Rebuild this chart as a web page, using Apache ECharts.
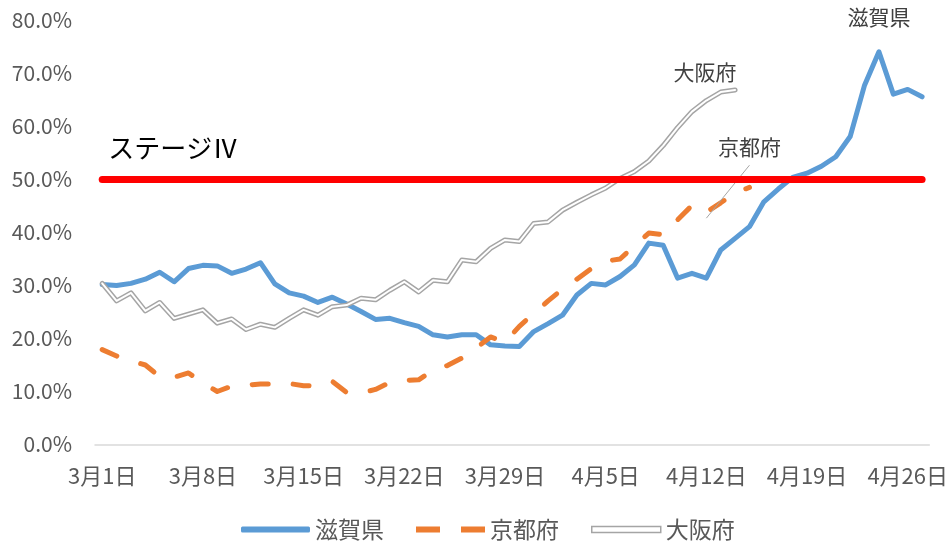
<!DOCTYPE html>
<html>
<head>
<meta charset="utf-8">
<script src="https://cdn.jsdelivr.net/npm/echarts@6/dist/echarts.min.js"></script>
<style>
html, body { margin: 0; padding: 0; background: #fff; }
#chart_id { width: 951px; height: 547px; }
</style>
</head>
<body>
<div id="chart_id"></div>
<script>
// 日付
var xAxis_data = [
	'3月1日','3月2日','3月3日','3月4日','3月5日','3月6日','3月7日',
	'3月8日','3月9日','3月10日','3月11日','3月12日','3月13日','3月14日',
	'3月15日','3月16日','3月17日','3月18日','3月19日','3月20日','3月21日',
	'3月22日','3月23日','3月24日','3月25日','3月26日','3月27日','3月28日',
	'3月29日','3月30日','3月31日','4月1日','4月2日','4月3日','4月4日',
	'4月5日','4月6日','4月7日','4月8日','4月9日','4月10日','4月11日',
	'4月12日','4月13日','4月14日','4月15日','4月16日','4月17日','4月18日',
	'4月19日','4月20日','4月21日','4月22日','4月23日','4月24日','4月25日',
	'4月26日','4月27日'
];
// 滋賀県 (%)
var shiga_data = [
	30.2, 30.0, 30.4, 31.2, 32.5, 30.7, 33.2,
	33.8, 33.7, 32.3, 33.1, 34.3, 30.3, 28.6,
	28.0, 26.8, 27.8, 26.5, 25.1, 23.6, 23.8,
	23.0, 22.3, 20.7, 20.3, 20.7, 20.7, 18.8,
	18.6, 18.5, 21.3, 22.8, 24.4, 28.2, 30.4,
	30.1, 31.7, 33.9, 38.0, 37.6, 31.4, 32.3,
	31.4, 36.7, 38.9, 41.1, 45.8, 48.2, 50.4,
	51.2, 52.5, 54.3, 58.1, 67.8, 74.1, 66.1,
	67.0, 65.6
];
// 京都府 (%)
var kyoto_data = [
	17.9, 16.7, 15.8, 15.0, 12.8, 12.7, 13.5,
	11.6, 10.0, 11.0, 11.2, 11.4, 11.4, 11.5,
	11.1, 11.0, 11.9, 9.8, 9.7, 10.4, 11.7,
	12.1, 12.2, 14.0, 14.9, 16.3, 18.2, 20.3,
	19.3, 22.3, 24.7, 27.1, 29.3, 31.2, 33.2,
	34.6, 35.0, 37.5, 39.9, 39.6, 42.4, 45.1,
	43.8, 45.6, 47.5, 48.5
];
// 大阪府 (%)
var osaka_data = [
	30.4, 27.1, 28.6, 25.2, 26.8, 23.8, 24.6,
	25.4, 22.9, 23.7, 21.7, 22.7, 22.1, 23.8,
	25.4, 24.4, 26.0, 26.3, 27.6, 27.3, 29.1,
	30.7, 28.8, 31.0, 30.7, 34.8, 34.5, 37.0,
	38.6, 38.3, 41.7, 42.0, 44.2, 45.7, 47.1,
	48.4, 50.2, 51.5, 53.5, 56.4, 59.8, 62.8,
	64.9, 66.5, 66.9
];
var stage4_value = 50;
var yTicks = [0, 10, 20, 30, 40, 50, 60, 70, 80];

var FONT = 'Noto Sans CJK JP';

var myChart = echarts.init(document.getElementById('chart_id'));

var last = function(arr) { return arr.length - 1; };
var peak = shiga_data.indexOf(Math.max.apply(null, shiga_data));

option = {
	animation : false,
	textStyle : { fontFamily : FONT },
	grid : {
		left : 95,
		right : 19,
		top : 20.5,
		bottom : 102.5
	},
	legend : {
		left : 236,
		top : 513,
		itemWidth : 69,
		itemHeight : 6,
		itemGap : 32,
		symbolKeepAspect : false,
		textStyle : { fontSize : 23, color : '#595959', fontFamily : FONT },
		data : [
			{ name : '滋賀県', icon : 'roundRect', itemStyle : { color : '#5b9bd5', borderWidth : 0 } },
			{ name : '京都府', icon : 'path://M0,0h24v6h-24zM45,0h24v6h-24z', itemStyle : { color : '#ed7d31', borderWidth : 0 } },
			{ name : '大阪府', icon : 'rect', itemStyle : { color : '#ffffff', borderColor : '#a5a5a5', borderWidth : 1.5 } }
		]
	},
	xAxis : {
		type : 'category',
		data : xAxis_data,
		boundaryGap : true,
		axisLine : { lineStyle : { color : '#d9d9d9', width : 1.5 } },
		axisTick : { interval : 6, length : 7, lineStyle : { color : '#d9d9d9', width : 1.5 } },
		axisLabel : { interval : 6, margin : 20, fontSize : 22, color : '#595959', fontFamily : FONT },
		splitLine : { show : false }
	},
	yAxis : {
		type : 'value',
		min : yTicks[0],
		max : yTicks[yTicks.length - 1],
		interval : 10,
		axisLine : { show : false },
		axisTick : { show : false },
		splitLine : { show : false },
		axisLabel : {
			margin : 23,
			fontSize : 21,
			color : '#595959',
			fontFamily : FONT,
			formatter : function(v) { return v.toFixed(1) + '%'; }
		}
	},
	series : [ {
		name : '滋賀県',
		type : 'line',
		data : shiga_data,
		symbol : 'none',
		lineStyle : { color : '#5b9bd5', width : 5, join : 'round', cap : 'round' },
		itemStyle : { color : '#5b9bd5' },
		markPoint : {
			symbol : 'circle',
			symbolSize : 0,
			silent : true,
			label : { show : true, position : 'inside', offset : [0, -35], fontSize : 21, color : '#404040', fontFamily : FONT, formatter : '滋賀県' },
			data : [ { coord : [xAxis_data[peak], shiga_data[peak]] } ]
		}
	}, {
		name : '京都府',
		type : 'line',
		data : kyoto_data,
		symbol : 'none',
		lineStyle : { color : '#ed7d31', width : 5, type : [16, 25], cap : 'round', join : 'round' },
		itemStyle : { color : '#ed7d31' },
		markPoint : {
			symbol : 'circle',
			symbolSize : 0,
			silent : true,
			label : { show : true, position : 'inside', offset : [0, -40], fontSize : 21, color : '#404040', fontFamily : FONT, formatter : '京都府' },
			data : [ { coord : [xAxis_data[last(kyoto_data)], kyoto_data[last(kyoto_data)]] } ]
		},
		markLine : {
			silent : true,
			symbol : 'none',
			label : { show : false },
			lineStyle : { color : '#a5a5a5', width : 1, type : 'solid' },
			data : [ [ { coord : [xAxis_data[42], 42.7] }, { coord : [xAxis_data[45], 52.7] } ] ]
		}
	}, {
		name : '大阪府',
		type : 'line',
		data : osaka_data,
		symbol : 'none',
		lineStyle : { color : '#a5a5a5', width : 5, join : 'round', cap : 'round' },
		itemStyle : { color : '#a5a5a5' },
		markPoint : {
			symbol : 'circle',
			symbolSize : 0,
			silent : true,
			label : { show : true, position : 'inside', offset : [-30, -18], fontSize : 21, color : '#404040', fontFamily : FONT, formatter : '大阪府' },
			data : [ { coord : [xAxis_data[last(osaka_data)], osaka_data[last(osaka_data)]] } ]
		}
	}, {
		// 二重線の内側
		name : '大阪府',
		type : 'line',
		data : osaka_data,
		symbol : 'none',
		lineStyle : { color : '#ffffff', width : 2, join : 'round', cap : 'round' },
		itemStyle : { color : '#ffffff' }
	}, {
		// ステージⅣ
		name : 'ステージⅣ',
		type : 'line',
		data : [],
		symbol : 'none',
		markLine : {
			silent : true,
			symbol : 'none',
			lineStyle : { color : '#ff0000', width : 7, type : 'solid', cap : 'round' },
			label : {
				show : true,
				position : 'insideStartTop',
				distance : [6, 18],
				fontSize : 26,
				color : '#000000',
				fontFamily : FONT,
				formatter : 'ステージⅣ'
			},
			data : [ [ { coord : [xAxis_data[0], stage4_value] }, { coord : [xAxis_data[last(xAxis_data)], stage4_value] } ] ]
		}
	} ]
};

myChart.setOption(option);
</script>
</body>
</html>
